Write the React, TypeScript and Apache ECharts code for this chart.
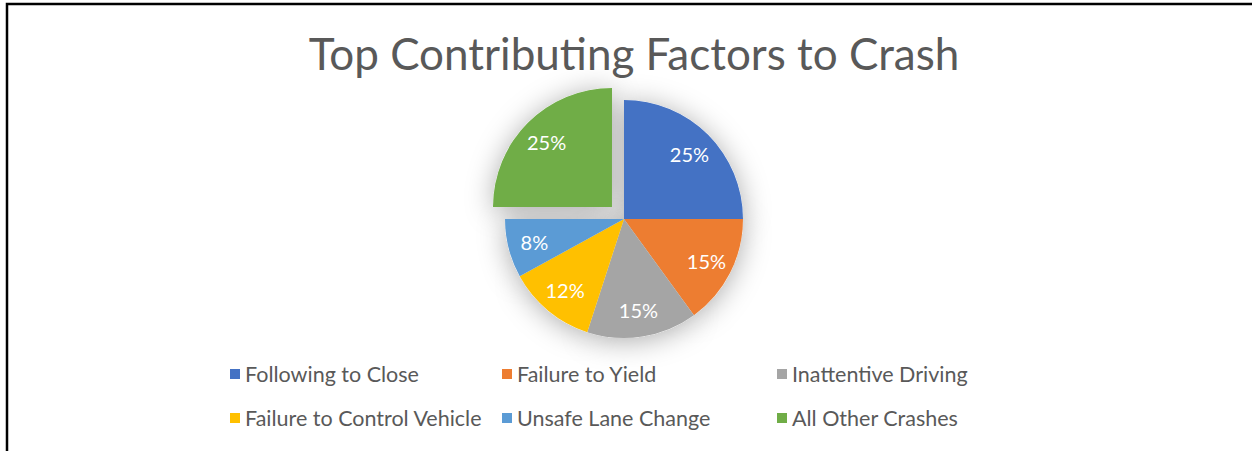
import React, { useEffect, useRef } from "react";
import * as echarts from "echarts";

const categories = [
  "Following to Close",
  "Failure to Yield",
  "Inattentive Driving",
  "Failure to Control Vehicle",
  "Unsafe Lane Change",
  "All Other Crashes",
];
const values = [25, 15, 15, 12, 8, 25];
const colors = ["#4472C4", "#ED7D31", "#A5A5A5", "#FFC000", "#5B9BD5", "#70AD47"];
const explodedIndex = 5;
const titleText = "Top Contributing Factors to Crash";
const legendColumns = [
  [0, 3],
  [1, 4],
  [2, 5],
];

const FONT = "Lato, 'Open Sans', sans-serif";

export default function App() {
  const ref = useRef<HTMLDivElement>(null);
  useEffect(() => {
    if (!ref.current) return;
    const chart = echarts.init(ref.current, undefined, { renderer: "svg" });
    const center = [624, 219];
    const R = 119;
    const makeData = (kind: string) =>
      categories.map((name, i) => ({
        name,
        value: values[i],
        selected: i === explodedIndex,
        itemStyle:
          kind === "main"
            ? { color: colors[i] }
            : kind === "shadow"
            ? {
                color: "#ffffff",
                shadowBlur: 28,
                shadowColor: "rgba(0,0,0,0.33)",
                shadowOffsetY: 3,
              }
            : { color: "rgba(0,0,0,0)" },
      }));
    const common = {
      type: "pie",
      center,
      startAngle: 90,
      clockwise: true,
      selectedMode: "single",
      selectedOffset: 17,
      silent: true,
      avoidLabelOverlap: false,
      labelLine: { show: false },
      emphasis: { disabled: true },
    };
    const legendX = [230, 502, 777];
    chart.setOption({
      animation: false,
      color: colors,
      title: {
        text: titleText,
        left: 629,
        textAlign: "center",
        top: 26,
        textStyle: {
          fontFamily: FONT,
          fontSize: 44,
          fontWeight: 400,
          color: "#595959",
        },
      },
      legend: legendColumns.map((col, c) => ({
        orient: "vertical",
        left: legendX[c],
        top: 363,
        padding: 0,
        itemGap: 22,
        itemWidth: 10,
        itemHeight: 10,
        icon: "rect",
        selectedMode: false,
        data: col.map((i) => categories[i]),
        textStyle: {
          fontFamily: FONT,
          fontSize: 21.5,
          lineHeight: 22,
          color: "#595959",
        },
      })),
      graphic: [
        {
          type: "polyline",
          shape: { points: [[7, 451], [7, 4], [1252, 4]] },
          style: { stroke: "#000", lineWidth: 2.5, fill: "none" },
          silent: true,
        },
      ],
      series: [
        {
          ...common,
          name: "main",
          z: 3,
          radius: [0, R],
          label: { show: false },
          data: makeData("main"),
        },
        {
          ...common,
          name: "shadow",
          z: 2,
          radius: [0, R],
          label: { show: false },
          data: makeData("shadow"),
        },
        {
          ...common,
          name: "labels",
          z: 4,
          radius: [60, R],
          label: {
            show: true,
            position: "inside",
            formatter: "{d}%",
            fontFamily: FONT,
            fontSize: 20,
            color: "#ffffff",
          },
          data: makeData("labels"),
        },
      ],
    });
    return () => chart.dispose();
  }, []);
  return (
    <div
      ref={ref}
      style={{ position: "fixed", left: 0, top: 0, width: 1252, height: 451, background: "#fff" }}
    />
  );
}
